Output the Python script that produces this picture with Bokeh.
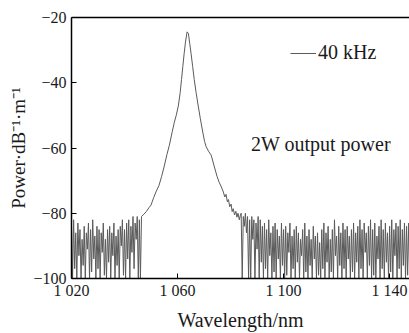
from bokeh.plotting import figure
from bokeh.models import Range1d, FixedTicker, LinearAxis, Label, Legend, LegendItem, ColumnDataSource
from bokeh.embed import file_html
from bokeh.resources import INLINE

# ---- data ----
left_start = 1020.0
noise_step = 0.4
left_noise = [-84, -100, -82, -97, -86, -100, -83, -93, -85, -100, -88, -96, -84, -100, -86, -91,
              -83, -100, -85, -98, -82, -94, -87, -100, -84, -97, -85, -100, -86, -92, -83, -99,
              -88, -100, -85, -95, -84, -100, -86, -93, -83, -100, -87, -96, -85, -100, -84, -90,
              -82, -99, -85, -100, -83, -94, -82, -100, -84, -92, -81, -97, -83, -88, -81, -100,
              -82, -100]

peak_wl = [1046.4, 1047.3, 1048.2, 1049.2, 1050.0, 1051.0, 1052.0, 1053.0, 1054.0, 1055.0,
           1056.0, 1056.9, 1058.0, 1058.8, 1059.5, 1060.3, 1061.0, 1061.5, 1062.0, 1062.5,
           1063.0, 1063.6, 1064.1, 1064.6, 1065.1, 1065.7, 1066.3, 1067.0, 1067.8, 1068.6,
           1069.5, 1070.2, 1070.8, 1071.7, 1072.7, 1073.8, 1074.9, 1075.7, 1076.4, 1077.3,
           1077.8, 1078.3, 1078.8, 1079.2, 1079.7, 1080.2, 1080.6, 1081.0, 1081.5, 1082.0,
           1082.4, 1082.8, 1083.3, 1083.7]
peak_pw = [-81.0, -80.3, -79.5, -78.3, -77.5, -75.2, -73.2, -71.5, -68.7, -65.5,
           -62.0, -59.2, -55.0, -52.1, -50.0, -47.1, -43.0, -39.0, -35.0, -31.0,
           -27.5, -24.4, -24.9, -28.0, -31.0, -35.0, -39.0, -43.0, -47.1, -51.0,
           -55.1, -58.0, -59.6, -61.0, -62.2, -65.5, -68.7, -70.5, -71.7, -73.5,
           -75.0, -74.2, -76.5, -75.8, -78.0, -77.2, -79.5, -78.6, -80.5, -79.4,
           -81.2, -80.0, -82.0, -80.6]

right_start = 1084.0
right_noise = [-80, -100, -81, -84, -80, -86, -81, -100, -82, -100, -81, -88, -82, -100, -83, -91, -81, -100, -82, -95,
               -84, -100, -83, -97, -85, -100, -82, -93, -86, -100, -84, -98, -83, -100, -85, -94, -87, -100, -83, -96,
               -85, -100, -84, -99, -86, -92, -83, -100, -87, -97, -85, -100, -84, -95, -86, -100, -88, -93, -85, -100,
               -83, -98, -87, -100, -85, -96, -88, -100, -84, -94, -87, -100, -86, -99, -89, -100, -85, -97, -83, -100,
               -86, -95, -84, -100, -88, -98, -85, -100, -82, -93, -87, -100, -84, -96, -86, -100, -83, -97, -85, -100,
               -84, -94, -87, -100, -85, -98, -83, -100, -86, -95, -84, -100, -82, -97, -85, -100, -83, -92, -86, -100,
               -84, -96, -82, -100, -85, -99, -83, -100, -87, -94, -84, -100, -82, -97, -85, -100, -83, -95, -86, -100,
               -84, -98, -82, -100, -85, -93, -83, -100, -84, -97, -82, -100, -85, -96, -83, -100, -84, -99, -83, -100,
               -84]

x_ticks = [1020, 1060, 1100, 1140]
x_tick_labels = ["1 020", "1 060", "1 100", "1 140"]
y_ticks = [-100, -80, -60, -40, -20]
y_tick_labels = ["\u2212100", "\u221280", "\u221260", "\u221240", "\u221220"]
series_label = "40 kHz"
note_text = "2W output power"
x_label = "Wavelength/nm"
y_label = "Power\u00b7dB\u207b\u00b9\u00b7m\u207b\u00b9"

# ---- assemble series ----
wl = [round(left_start + noise_step * i, 2) for i in range(len(left_noise))] + peak_wl + \
     [round(right_start + noise_step * i, 2) for i in range(len(right_noise))]
pw = left_noise + peak_pw + right_noise
src = ColumnDataSource(dict(wl=wl, pw=pw))

FONT = "Liberation Serif"
TXT = "#1a1a1a"

p = figure(width=409, height=333, output_backend="svg", toolbar_location=None,
           x_range=Range1d(1020, 1147.5), y_range=Range1d(-100, -20),
           min_border_left=71, min_border_right=0, min_border_top=17, min_border_bottom=51)
p.outline_line_color = None
p.grid.visible = False
p.background_fill_color = "white"
p.border_fill_color = "white"

r = p.line("wl", "pw", source=src, line_color="#5a5a5a", line_width=1)

for ax in (p.xaxis[0], p.yaxis[0]):
    ax.axis_line_color = "black"
    ax.axis_line_width = 1.5
    ax.major_tick_line_color = "black"
    ax.major_tick_line_width = 1
    ax.major_tick_in = 5
    ax.major_tick_out = 0
    ax.minor_tick_line_color = None
    ax.major_label_text_font = FONT
    ax.major_label_text_color = TXT
    ax.axis_label_text_font = FONT
    ax.axis_label_text_color = TXT
    ax.axis_label_text_font_style = "normal"

p.xaxis[0].ticker = FixedTicker(ticks=x_ticks)
p.xaxis[0].major_label_overrides = {t: l for t, l in zip(x_ticks, x_tick_labels)}
p.xaxis[0].major_label_text_font_size = "16px"
p.xaxis[0].major_label_standoff = 3
p.xaxis[0].axis_label = x_label
p.xaxis[0].axis_label_text_font_size = "20px"
p.xaxis[0].axis_label_standoff = 7

p.yaxis[0].ticker = FixedTicker(ticks=y_ticks)
p.yaxis[0].major_label_overrides = {t: l for t, l in zip(y_ticks, y_tick_labels)}
p.yaxis[0].major_label_text_font_size = "16px"
p.yaxis[0].major_label_standoff = 5
p.yaxis[0].axis_label = y_label
p.yaxis[0].axis_label_text_font_size = "19px"
p.yaxis[0].axis_label_standoff = 1

top = LinearAxis(ticker=FixedTicker(ticks=[]), axis_line_color="black", axis_line_width=1.5,
                 major_tick_line_color=None, minor_tick_line_color=None)
p.add_layout(top, "above")

legend = Legend(items=[LegendItem(label=series_label, renderers=[r])],
                location=(219, 214), padding=0, margin=0, spacing=0,
                glyph_width=26, glyph_height=20, label_height=20, label_standoff=2,
                label_text_font=FONT, label_text_font_size="20px", label_text_color=TXT,
                border_line_color=None, background_fill_alpha=0)
p.add_layout(legend)

p.add_layout(Label(x=1087.7, y=-58.9, text=note_text, text_font=FONT, text_font_size="20px",
                   text_color=TXT, text_baseline="alphabetic", text_align="left"))

open("out.html", "w").write(file_html(p, INLINE))
